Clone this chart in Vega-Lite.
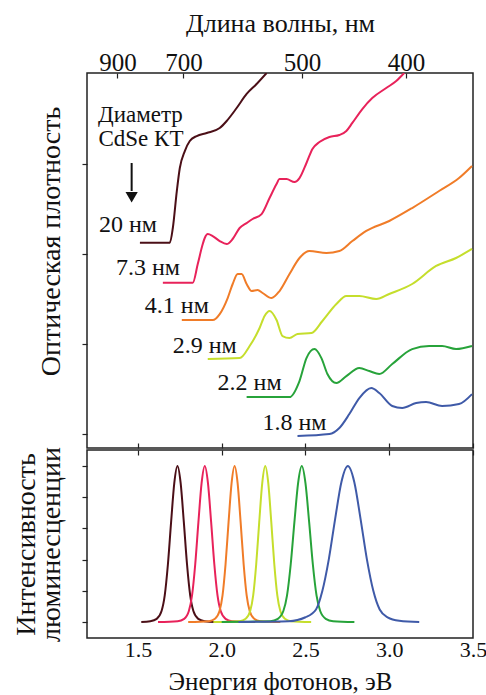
{
  "$schema": "https://vega.github.io/schema/vega-lite/v6.json",
  "padding": {"left": 11, "top": 9, "right": 0, "bottom": 0},
  "spacing": -6,
  "config": {
    "font": "serif",
    "view": {"stroke": "#222", "strokeWidth": 1.5},
    "text": {"font": "serif"},
    "axis": {
      "grid": false, "domain": false, "tickColor": "#222", "tickWidth": 1.2,
      "labelFont": "serif",
      "titleFont": "serif",
      "labelFontSize": 22, "titleFontSize": 24, "titleFontWeight": "normal",
      "labelColor": "#111", "titleColor": "#111", "labelFlush": false
    }
  },
  "datasets": {
    "abs": [
      {"d": "20 нм", "e": 1.5119, "v": 2.126},
      {"d": "20 нм", "e": 1.6905, "v": 2.126},
      {"d": "20 нм", "e": 1.7083, "v": 2.289},
      {"d": "20 нм", "e": 1.7321, "v": 2.700},
      {"d": "20 нм", "e": 1.7500, "v": 2.956},
      {"d": "20 нм", "e": 1.7798, "v": 3.144},
      {"d": "20 нм", "e": 1.8095, "v": 3.256},
      {"d": "20 нм", "e": 1.8512, "v": 3.311},
      {"d": "20 нм", "e": 1.9107, "v": 3.344},
      {"d": "20 нм", "e": 1.9881, "v": 3.400},
      {"d": "20 нм", "e": 2.0298, "v": 3.478},
      {"d": "20 нм", "e": 2.0893, "v": 3.622},
      {"d": "20 нм", "e": 2.1488, "v": 3.778},
      {"d": "20 нм", "e": 2.2083, "v": 3.889},
      {"d": "20 нм", "e": 2.2679, "v": 4.011},

      {"d": "7.3 нм", "e": 1.6488, "v": 1.681},
      {"d": "7.3 нм", "e": 1.8274, "v": 1.681},
      {"d": "7.3 нм", "e": 1.8571, "v": 1.889},
      {"d": "7.3 нм", "e": 1.8869, "v": 2.111},
      {"d": "7.3 нм", "e": 1.8988, "v": 2.178},
      {"d": "7.3 нм", "e": 1.9167, "v": 2.222},
      {"d": "7.3 нм", "e": 1.9464, "v": 2.200},
      {"d": "7.3 нм", "e": 1.9881, "v": 2.144},
      {"d": "7.3 нм", "e": 2.0298, "v": 2.111},
      {"d": "7.3 нм", "e": 2.0655, "v": 2.167},
      {"d": "7.3 нм", "e": 2.1071, "v": 2.289},
      {"d": "7.3 нм", "e": 2.1488, "v": 2.344},
      {"d": "7.3 нм", "e": 2.1845, "v": 2.389},
      {"d": "7.3 нм", "e": 2.2381, "v": 2.444},
      {"d": "7.3 нм", "e": 2.2857, "v": 2.622},
      {"d": "7.3 нм", "e": 2.3274, "v": 2.778},
      {"d": "7.3 нм", "e": 2.3452, "v": 2.833},
      {"d": "7.3 нм", "e": 2.3869, "v": 2.833},
      {"d": "7.3 нм", "e": 2.4345, "v": 2.800},
      {"d": "7.3 нм", "e": 2.4643, "v": 2.844},
      {"d": "7.3 нм", "e": 2.5060, "v": 3.011},
      {"d": "7.3 нм", "e": 2.5417, "v": 3.167},
      {"d": "7.3 нм", "e": 2.5833, "v": 3.244},
      {"d": "7.3 нм", "e": 2.6429, "v": 3.300},
      {"d": "7.3 нм", "e": 2.7024, "v": 3.322},
      {"d": "7.3 нм", "e": 2.7440, "v": 3.367},
      {"d": "7.3 нм", "e": 2.7798, "v": 3.456},
      {"d": "7.3 нм", "e": 2.8393, "v": 3.611},
      {"d": "7.3 нм", "e": 2.8988, "v": 3.733},
      {"d": "7.3 нм", "e": 2.9821, "v": 3.844},
      {"d": "7.3 нм", "e": 3.0417, "v": 3.922},
      {"d": "7.3 нм", "e": 3.0893, "v": 4.011},

      {"d": "4.1 нм", "e": 1.7619, "v": 1.267},
      {"d": "4.1 нм", "e": 1.9464, "v": 1.267},
      {"d": "4.1 нм", "e": 1.9881, "v": 1.333},
      {"d": "4.1 нм", "e": 2.0357, "v": 1.511},
      {"d": "4.1 нм", "e": 2.0655, "v": 1.667},
      {"d": "4.1 нм", "e": 2.0952, "v": 1.778},
      {"d": "4.1 нм", "e": 2.1190, "v": 1.778},
      {"d": "4.1 нм", "e": 2.1488, "v": 1.667},
      {"d": "4.1 нм", "e": 2.1786, "v": 1.589},
      {"d": "4.1 нм", "e": 2.2143, "v": 1.600},
      {"d": "4.1 нм", "e": 2.2440, "v": 1.567},
      {"d": "4.1 нм", "e": 2.2976, "v": 1.511},
      {"d": "4.1 нм", "e": 2.3452, "v": 1.589},
      {"d": "4.1 нм", "e": 2.4048, "v": 1.778},
      {"d": "4.1 нм", "e": 2.4643, "v": 1.956},
      {"d": "4.1 нм", "e": 2.5238, "v": 2.033},
      {"d": "4.1 нм", "e": 2.6250, "v": 2.011},
      {"d": "4.1 нм", "e": 2.7024, "v": 2.033},
      {"d": "4.1 нм", "e": 2.7798, "v": 2.144},
      {"d": "4.1 нм", "e": 2.8631, "v": 2.256},
      {"d": "4.1 нм", "e": 3.0000, "v": 2.367},
      {"d": "4.1 нм", "e": 3.1369, "v": 2.511},
      {"d": "4.1 нм", "e": 3.2976, "v": 2.700},
      {"d": "4.1 нм", "e": 3.4167, "v": 2.844},
      {"d": "4.1 нм", "e": 3.4940, "v": 2.978},

      {"d": "2.9 нм", "e": 1.9167, "v": 0.833},
      {"d": "2.9 нм", "e": 2.1071, "v": 0.844},
      {"d": "2.9 нм", "e": 2.1667, "v": 0.978},
      {"d": "2.9 нм", "e": 2.2262, "v": 1.178},
      {"d": "2.9 нм", "e": 2.2560, "v": 1.311},
      {"d": "2.9 нм", "e": 2.2857, "v": 1.367},
      {"d": "2.9 нм", "e": 2.3274, "v": 1.267},
      {"d": "2.9 нм", "e": 2.3631, "v": 1.089},
      {"d": "2.9 нм", "e": 2.4048, "v": 1.067},
      {"d": "2.9 нм", "e": 2.4524, "v": 1.111},
      {"d": "2.9 нм", "e": 2.5357, "v": 1.122},
      {"d": "2.9 нм", "e": 2.6012, "v": 1.256},
      {"d": "2.9 нм", "e": 2.6845, "v": 1.444},
      {"d": "2.9 нм", "e": 2.7440, "v": 1.533},
      {"d": "2.9 нм", "e": 2.8214, "v": 1.533},
      {"d": "2.9 нм", "e": 2.9226, "v": 1.500},
      {"d": "2.9 нм", "e": 3.0000, "v": 1.556},
      {"d": "2.9 нм", "e": 3.1369, "v": 1.667},
      {"d": "2.9 нм", "e": 3.2798, "v": 1.867},
      {"d": "2.9 нм", "e": 3.3988, "v": 1.956},
      {"d": "2.9 нм", "e": 3.4940, "v": 2.056},

      {"d": "2.2 нм", "e": 2.1488, "v": 0.411},
      {"d": "2.2 нм", "e": 2.4048, "v": 0.411},
      {"d": "2.2 нм", "e": 2.4643, "v": 0.589},
      {"d": "2.2 нм", "e": 2.5060, "v": 0.844},
      {"d": "2.2 нм", "e": 2.5536, "v": 0.944},
      {"d": "2.2 нм", "e": 2.5952, "v": 0.844},
      {"d": "2.2 нм", "e": 2.6310, "v": 0.667},
      {"d": "2.2 нм", "e": 2.6845, "v": 0.567},
      {"d": "2.2 нм", "e": 2.7440, "v": 0.644},
      {"d": "2.2 нм", "e": 2.8214, "v": 0.733},
      {"d": "2.2 нм", "e": 2.8810, "v": 0.700},
      {"d": "2.2 нм", "e": 2.9405, "v": 0.667},
      {"d": "2.2 нм", "e": 3.0179, "v": 0.778},
      {"d": "2.2 нм", "e": 3.1369, "v": 0.944},
      {"d": "2.2 нм", "e": 3.2381, "v": 0.978},
      {"d": "2.2 нм", "e": 3.3155, "v": 0.978},
      {"d": "2.2 нм", "e": 3.3988, "v": 0.944},
      {"d": "2.2 нм", "e": 3.4940, "v": 0.978},

      {"d": "1.8 нм", "e": 2.4524, "v": -0.022},
      {"d": "1.8 нм", "e": 2.6429, "v": 0.000},
      {"d": "1.8 нм", "e": 2.7024, "v": 0.067},
      {"d": "1.8 нм", "e": 2.7619, "v": 0.222},
      {"d": "1.8 нм", "e": 2.8214, "v": 0.400},
      {"d": "1.8 нм", "e": 2.8929, "v": 0.511},
      {"d": "1.8 нм", "e": 2.9405, "v": 0.456},
      {"d": "1.8 нм", "e": 3.0179, "v": 0.311},
      {"d": "1.8 нм", "e": 3.0774, "v": 0.289},
      {"d": "1.8 нм", "e": 3.1607, "v": 0.344},
      {"d": "1.8 нм", "e": 3.2202, "v": 0.356},
      {"d": "1.8 нм", "e": 3.3155, "v": 0.311},
      {"d": "1.8 нм", "e": 3.4167, "v": 0.333},
      {"d": "1.8 нм", "e": 3.4940, "v": 0.444}
    ],
    "pl": [
      {"d": "20 нм", "e": 1.520, "v": 0},
      {"d": "20 нм", "e": 1.574, "v": 0.005},
      {"d": "20 нм", "e": 1.612, "v": 0.02},
      {"d": "20 нм", "e": 1.641, "v": 0.07},
      {"d": "20 нм", "e": 1.660, "v": 0.17},
      {"d": "20 нм", "e": 1.679, "v": 0.37},
      {"d": "20 нм", "e": 1.698, "v": 0.64},
      {"d": "20 нм", "e": 1.717, "v": 0.89},
      {"d": "20 нм", "e": 1.736, "v": 1.0},
      {"d": "20 нм", "e": 1.755, "v": 0.89},
      {"d": "20 нм", "e": 1.774, "v": 0.64},
      {"d": "20 нм", "e": 1.793, "v": 0.37},
      {"d": "20 нм", "e": 1.812, "v": 0.17},
      {"d": "20 нм", "e": 1.831, "v": 0.07},
      {"d": "20 нм", "e": 1.860, "v": 0.02},
      {"d": "20 нм", "e": 1.898, "v": 0.005},
      {"d": "20 нм", "e": 1.960, "v": 0},

      {"d": "7.3 нм", "e": 1.620, "v": 0},
      {"d": "7.3 нм", "e": 1.737, "v": 0.005},
      {"d": "7.3 нм", "e": 1.776, "v": 0.02},
      {"d": "7.3 нм", "e": 1.804, "v": 0.07},
      {"d": "7.3 нм", "e": 1.823, "v": 0.17},
      {"d": "7.3 нм", "e": 1.842, "v": 0.37},
      {"d": "7.3 нм", "e": 1.861, "v": 0.64},
      {"d": "7.3 нм", "e": 1.880, "v": 0.89},
      {"d": "7.3 нм", "e": 1.899, "v": 1.0},
      {"d": "7.3 нм", "e": 1.918, "v": 0.89},
      {"d": "7.3 нм", "e": 1.937, "v": 0.64},
      {"d": "7.3 нм", "e": 1.956, "v": 0.37},
      {"d": "7.3 нм", "e": 1.975, "v": 0.17},
      {"d": "7.3 нм", "e": 1.994, "v": 0.07},
      {"d": "7.3 нм", "e": 2.023, "v": 0.02},
      {"d": "7.3 нм", "e": 2.061, "v": 0.005},
      {"d": "7.3 нм", "e": 2.200, "v": 0},

      {"d": "4.1 нм", "e": 1.800, "v": 0},
      {"d": "4.1 нм", "e": 1.924, "v": 0.005},
      {"d": "4.1 нм", "e": 1.960, "v": 0.02},
      {"d": "4.1 нм", "e": 1.987, "v": 0.07},
      {"d": "4.1 нм", "e": 2.005, "v": 0.17},
      {"d": "4.1 нм", "e": 2.023, "v": 0.37},
      {"d": "4.1 нм", "e": 2.041, "v": 0.64},
      {"d": "4.1 нм", "e": 2.059, "v": 0.89},
      {"d": "4.1 нм", "e": 2.077, "v": 1.0},
      {"d": "4.1 нм", "e": 2.095, "v": 0.89},
      {"d": "4.1 нм", "e": 2.113, "v": 0.64},
      {"d": "4.1 нм", "e": 2.131, "v": 0.37},
      {"d": "4.1 нм", "e": 2.149, "v": 0.17},
      {"d": "4.1 нм", "e": 2.167, "v": 0.07},
      {"d": "4.1 нм", "e": 2.194, "v": 0.02},
      {"d": "4.1 нм", "e": 2.230, "v": 0.005},
      {"d": "4.1 нм", "e": 2.350, "v": 0},

      {"d": "2.9 нм", "e": 1.950, "v": 0},
      {"d": "2.9 нм", "e": 2.107, "v": 0.005},
      {"d": "2.9 нм", "e": 2.143, "v": 0.02},
      {"d": "2.9 нм", "e": 2.170, "v": 0.07},
      {"d": "2.9 нм", "e": 2.188, "v": 0.17},
      {"d": "2.9 нм", "e": 2.206, "v": 0.37},
      {"d": "2.9 нм", "e": 2.224, "v": 0.64},
      {"d": "2.9 нм", "e": 2.242, "v": 0.89},
      {"d": "2.9 нм", "e": 2.260, "v": 1.0},
      {"d": "2.9 нм", "e": 2.278, "v": 0.89},
      {"d": "2.9 нм", "e": 2.296, "v": 0.64},
      {"d": "2.9 нм", "e": 2.314, "v": 0.37},
      {"d": "2.9 нм", "e": 2.332, "v": 0.17},
      {"d": "2.9 нм", "e": 2.350, "v": 0.07},
      {"d": "2.9 нм", "e": 2.377, "v": 0.02},
      {"d": "2.9 нм", "e": 2.413, "v": 0.005},
      {"d": "2.9 нм", "e": 2.534, "v": 0},

      {"d": "2.2 нм", "e": 2.000, "v": 0},
      {"d": "2.2 нм", "e": 2.291, "v": 0.005},
      {"d": "2.2 нм", "e": 2.335, "v": 0.02},
      {"d": "2.2 нм", "e": 2.368, "v": 0.07},
      {"d": "2.2 нм", "e": 2.390, "v": 0.17},
      {"d": "2.2 нм", "e": 2.412, "v": 0.37},
      {"d": "2.2 нм", "e": 2.434, "v": 0.64},
      {"d": "2.2 нм", "e": 2.456, "v": 0.89},
      {"d": "2.2 нм", "e": 2.478, "v": 1.0},
      {"d": "2.2 нм", "e": 2.500, "v": 0.89},
      {"d": "2.2 нм", "e": 2.522, "v": 0.64},
      {"d": "2.2 нм", "e": 2.544, "v": 0.37},
      {"d": "2.2 нм", "e": 2.566, "v": 0.17},
      {"d": "2.2 нм", "e": 2.588, "v": 0.07},
      {"d": "2.2 нм", "e": 2.621, "v": 0.02},
      {"d": "2.2 нм", "e": 2.665, "v": 0.005},
      {"d": "2.2 нм", "e": 2.792, "v": 0},

      {"d": "1.8 нм", "e": 2.100, "v": 0},
      {"d": "1.8 нм", "e": 2.400, "v": 0.005},
      {"d": "1.8 нм", "e": 2.500, "v": 0.03},
      {"d": "1.8 нм", "e": 2.563, "v": 0.08},
      {"d": "1.8 нм", "e": 2.601, "v": 0.2},
      {"d": "1.8 нм", "e": 2.639, "v": 0.4},
      {"d": "1.8 нм", "e": 2.677, "v": 0.66},
      {"d": "1.8 нм", "e": 2.715, "v": 0.9},
      {"d": "1.8 нм", "e": 2.753, "v": 1.0},
      {"d": "1.8 нм", "e": 2.791, "v": 0.9},
      {"d": "1.8 нм", "e": 2.829, "v": 0.66},
      {"d": "1.8 нм", "e": 2.867, "v": 0.4},
      {"d": "1.8 нм", "e": 2.905, "v": 0.2},
      {"d": "1.8 нм", "e": 2.943, "v": 0.08},
      {"d": "1.8 нм", "e": 2.990, "v": 0.03},
      {"d": "1.8 нм", "e": 3.060, "v": 0.008},
      {"d": "1.8 нм", "e": 3.179, "v": 0}
    ],
    "lbl": [
      {"e": 1.4405, "v": 2.322, "t": "20 нм"},
      {"e": 1.5595, "v": 1.844, "t": "7.3 нм"},
      {"e": 1.7321, "v": 1.422, "t": "4.1 нм"},
      {"e": 1.8988, "v": 0.978, "t": "2.9 нм"},
      {"e": 2.1667, "v": 0.567, "t": "2.2 нм"},
      {"e": 2.4345, "v": 0.122, "t": "1.8 нм"}
    ],
    "note": [
      {"e": 1.5150, "v": 3.539, "t": "Диаметр"},
      {"e": 1.5180, "v": 3.283, "t": "CdSe КТ"}
    ],
    "arrow": [
      {"e": 1.4625, "v": 3.011, "v2": 2.70}
    ],
    "head": [
      {"e": 1.4625, "v": 2.63}
    ]
  },
  "vconcat": [
    {
      "width": 386,
      "height": 375,
      "layer": [
        {
          "data": {"name": "abs"},
          "mark": {"type": "line", "interpolate": "monotone", "strokeWidth": 2, "clip": true},
          "encoding": {
            "x": {"field": "e", "type": "quantitative",
              "scale": {"domain": [1.196, 3.5], "nice": false, "zero": false},
              "axis": {"orient": "bottom", "values": [1.5, 2, 2.5, 3, 3.5], "labels": false, "tickSize": -5, "title": null}},
            "y": {"field": "v", "type": "quantitative",
              "scale": {"domain": [-0.155, 4.011], "nice": false, "zero": false},
              "axis": {"values": [0, 1, 2, 3], "labels": false, "tickSize": 5, "title": "Оптическая плотность", "titleFontSize": 28, "titlePadding": 16, "titleY": 168}},
            "color": {"field": "d", "type": "nominal",
              "scale": {"domain": ["20 нм", "7.3 нм", "4.1 нм", "2.9 нм", "2.2 нм", "1.8 нм"],
                        "range": ["#4b0f17", "#e8225a", "#f07c28", "#c5de2c", "#27a33a", "#3f5aa8"]},
              "legend": null}
          }
        },
        {
          "data": {"name": "lbl"},
          "mark": {"type": "text", "fontSize": 24, "color": "#111", "font": "serif"},
          "encoding": {
            "x": {"field": "e", "type": "quantitative",
              "scale": {"domain": [1.196, 3.5], "nice": false, "zero": false},
              "axis": {"orient": "top", "values": [1.37778, 1.77143, 2.48, 3.1], "labelExpr": "format(1240/datum.value, '.0f')", "labelFontSize": 25, "tickSize": -5, "labelPadding": 3, "title": "Длина волны, нм", "titleFontSize": 26, "titlePadding": 14}},
            "y": {"field": "v", "type": "quantitative", "scale": {"domain": [-0.155, 4.011], "nice": false, "zero": false}, "axis": null},
            "text": {"field": "t"}
          }
        },
        {
          "data": {"name": "note"},
          "mark": {"type": "text", "fontSize": 23, "color": "#111", "font": "serif"},
          "encoding": {
            "x": {"field": "e", "type": "quantitative", "scale": {"domain": [1.196, 3.5], "nice": false, "zero": false}, "axis": null},
            "y": {"field": "v", "type": "quantitative", "scale": {"domain": [-0.155, 4.011], "nice": false, "zero": false}, "axis": null},
            "text": {"field": "t"}
          }
        },
        {
          "data": {"name": "arrow"},
          "mark": {"type": "rule", "strokeWidth": 2, "color": "#111"},
          "encoding": {
            "x": {"field": "e", "type": "quantitative", "scale": {"domain": [1.196, 3.5], "nice": false, "zero": false}, "axis": null},
            "y": {"field": "v", "type": "quantitative", "scale": {"domain": [-0.155, 4.011], "nice": false, "zero": false}, "axis": null},
            "y2": {"field": "v2"}
          }
        },
        {
          "data": {"name": "head"},
          "mark": {"type": "point", "shape": "triangle-down", "filled": true, "size": 150, "color": "#111", "opacity": 1},
          "encoding": {
            "x": {"field": "e", "type": "quantitative", "scale": {"domain": [1.196, 3.5], "nice": false, "zero": false}, "axis": null},
            "y": {"field": "v", "type": "quantitative", "scale": {"domain": [-0.155, 4.011], "nice": false, "zero": false}, "axis": null}
          }
        }
      ],
      "resolve": {"axis": {"x": "independent", "y": "independent"}}
    },
    {
      "width": 386,
      "height": 188,
      "layer": [
        {
          "data": {"name": "pl"},
          "mark": {"type": "line", "interpolate": "monotone", "strokeWidth": 2, "clip": true},
          "encoding": {
            "x": {"field": "e", "type": "quantitative",
              "scale": {"domain": [1.196, 3.5], "nice": false, "zero": false},
              "axis": {"orient": "bottom", "values": [1.5, 2, 2.5, 3, 3.5], "format": ".1f", "ticks": false, "tickSize": 0, "labelPadding": 1, "title": "Энергия фотонов, эВ", "titleFontSize": 25, "titlePadding": 9}},
            "y": {"field": "v", "type": "quantitative",
              "scale": {"domain": [-0.103, 1.103], "nice": false, "zero": false},
              "axis": {"values": [0, 0.2, 0.4, 0.6, 0.8, 1], "labels": false, "tickSize": 5, "title": ["Интенсивность", "люминесценции"], "titleFontSize": 28, "titleLineHeight": 25, "titlePadding": 16}},
            "color": {"field": "d", "type": "nominal",
              "scale": {"domain": ["20 нм", "7.3 нм", "4.1 нм", "2.9 нм", "2.2 нм", "1.8 нм"],
                        "range": ["#4b0f17", "#e8225a", "#f07c28", "#c5de2c", "#27a33a", "#3f5aa8"]},
              "legend": null}
          }
        },
        {
          "data": {"name": "pl"},
          "mark": {"type": "point", "opacity": 0},
          "encoding": {
            "x": {"field": "e", "type": "quantitative",
              "scale": {"domain": [1.196, 3.5], "nice": false, "zero": false},
              "axis": {"orient": "top", "values": [1.5, 2, 2.5, 3, 3.5], "labels": false, "tickSize": -5, "title": null}},
            "y": {"field": "v", "type": "quantitative", "scale": {"domain": [-0.103, 1.103], "nice": false, "zero": false}, "axis": null}
          }
        }
      ],
      "resolve": {"axis": {"x": "independent", "y": "independent"}}
    }
  ]
}
